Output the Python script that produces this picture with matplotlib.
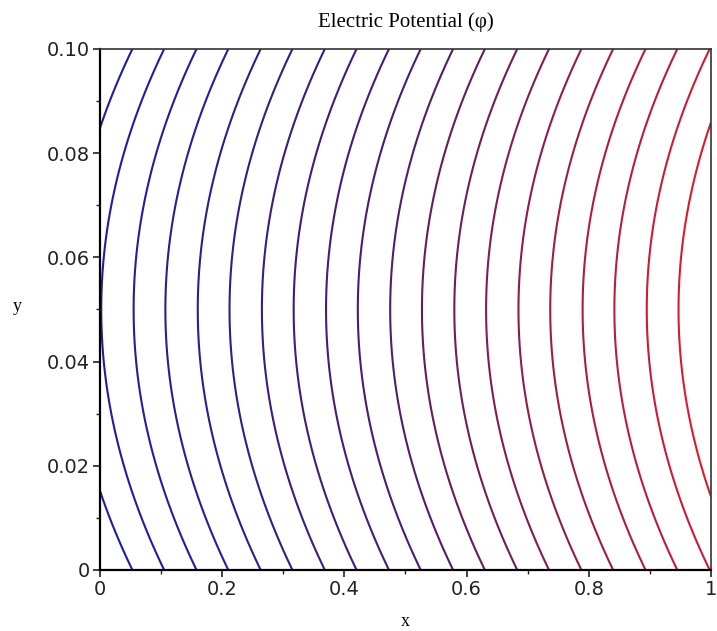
import numpy as np
import matplotlib
matplotlib.use("Agg")
import matplotlib.pyplot as plt
from matplotlib.colors import LinearSegmentedColormap
from matplotlib.ticker import MultipleLocator

# x-position of each equipotential line along the mid line y = 0.05
center_x = [-0.050, 0.002, 0.055, 0.107, 0.160, 0.212, 0.265, 0.317, 0.370, 0.422,
            0.475, 0.527, 0.580, 0.632, 0.685, 0.737, 0.790, 0.842, 0.895, 0.947]
# how far each line bows to the right at the walls y = 0 and y = 0.1
bow = 0.103

x_ticks = [0, 0.2, 0.4, 0.6, 0.8, 1.0]
x_labels = ["0", "0.2", "0.4", "0.6", "0.8", "1"]
y_ticks = [0, 0.02, 0.04, 0.06, 0.08, 0.10]
y_labels = ["0", "0.02", "0.04", "0.06", "0.08", "0.10"]


def potential(x, y):
    # level of the line that passes through (x, y): its x at y = 0.05
    return x - bow * ((y - 0.05) / 0.05) ** 2


fig = plt.figure(figsize=(7.17, 6.31), dpi=100)
ax = fig.add_axes([0.1395, 0.0967, 0.852, 0.8257])

xs = np.linspace(0, 1, 600)
ys = np.linspace(0, 0.1, 400)
X, Y = np.meshgrid(xs, ys)

cmap = LinearSegmentedColormap.from_list("br", ["#1c1ca8", "#4e1c6c", "#d81c30"])
colors = [cmap(i / (len(center_x) - 1)) for i in range(len(center_x))]
ax.contour(X, Y, potential(X, Y), levels=center_x, colors=colors, linewidths=1.5)

ax.set_xlim(0, 1)
ax.set_ylim(0, 0.1)
ax.set_xticks(x_ticks)
ax.set_xticklabels(x_labels)
ax.set_yticks(y_ticks)
ax.set_yticklabels(y_labels)
ax.xaxis.set_minor_locator(MultipleLocator(0.1))
ax.yaxis.set_minor_locator(MultipleLocator(0.01))
ax.tick_params(which="both", direction="out", top=False, right=False,
               labelsize=14, colors="#222222", pad=2)
ax.tick_params(which="major", length=5, width=1.2)
ax.tick_params(which="minor", length=3, width=1.0)
for side in ["left", "bottom"]:
    ax.spines[side].set_linewidth(1.6)
for side in ["top", "right"]:
    ax.spines[side].set_linewidth(1.2)
    ax.spines[side].set_color("#333333")

ax.set_title("Electric Potential (\u03c6)", family="Liberation Serif", fontsize=15, pad=16)
ax.set_xlabel("x", family="Liberation Serif", fontsize=13, labelpad=10)
ax.set_ylabel("y", family="Liberation Serif", fontsize=13, rotation=0, labelpad=28)
ax.yaxis.set_label_coords(-0.135, 0.49)

fig.savefig("out.png", dpi=100)
